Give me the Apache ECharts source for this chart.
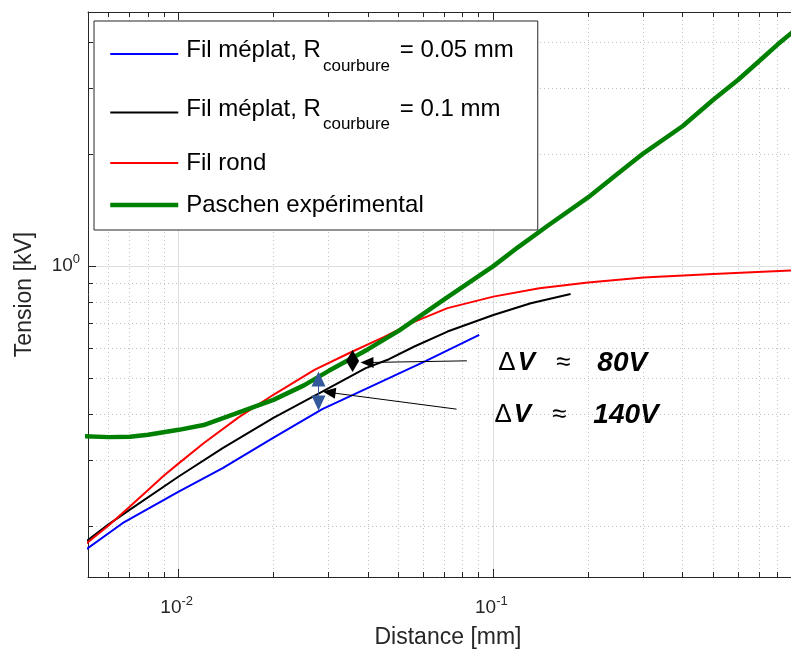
<!DOCTYPE html>
<html><head><meta charset="utf-8">
<script src="https://cdn.jsdelivr.net/npm/echarts@6/dist/echarts.min.js"></script>
<style>html,body{margin:0;padding:0;background:#fff}#c{width:791px;height:651px}</style>
</head><body><div id="c"></div>
<script>
// ---- data ----
const nameBlue = 'Fil méplat, Rcourbure = 0.05 mm';
const nameBlack = 'Fil méplat, Rcourbure = 0.1 mm';
const nameRed = 'Fil rond';
const nameGreen = 'Paschen expérimental';

const xBlue = [0.005, 0.00663, 0.01, 0.0138, 0.0199, 0.0286, 0.0466, 0.0611, 0.0902];
const yBlue = [0.1716, 0.2037, 0.2478, 0.2864, 0.3448, 0.4126, 0.4998, 0.5564, 0.6537];

const xBlack = [0.005, 0.006, 0.007, 0.01, 0.0138, 0.02, 0.0286, 0.0393, 0.0466, 0.0561, 0.0715, 0.1, 0.1315, 0.176];
const yBlack = [0.180, 0.2025, 0.2215, 0.272, 0.324, 0.391, 0.460, 0.532, 0.562, 0.608, 0.667, 0.739, 0.795, 0.841];

const xRed = [0.005, 0.006, 0.007, 0.009, 0.01, 0.012, 0.0155, 0.02, 0.027, 0.035, 0.045, 0.056, 0.0715, 0.1, 0.14, 0.2, 0.3, 0.5, 0.88, 1.0];
const yRed = [0.1775, 0.201, 0.226, 0.274, 0.295, 0.334, 0.392, 0.451, 0.526, 0.585, 0.645, 0.708, 0.771, 0.828, 0.872, 0.903, 0.932, 0.953, 0.973, 0.976];

const xGreen = [0.005, 0.006, 0.007, 0.008, 0.01, 0.012, 0.015, 0.02, 0.025, 0.03, 0.035, 0.04, 0.05, 0.07, 0.1, 0.12, 0.15, 0.2, 0.25, 0.3, 0.4, 0.5, 0.6, 0.7, 0.8, 0.9, 1.0];
const yGreen = [0.349, 0.347, 0.348, 0.352, 0.363, 0.374, 0.400, 0.437, 0.478, 0.523, 0.562, 0.598, 0.67, 0.815, 1.0, 1.125, 1.29, 1.53, 1.78, 2.01, 2.38, 2.80, 3.17, 3.56, 3.94, 4.28, 4.62];

const xLimits = [0.00515, 1];
const yLimits = [0.146, 4.82];
const xMinorTicks = [0.006, 0.007, 0.008, 0.009, 0.02, 0.03, 0.04, 0.05, 0.06, 0.07, 0.08, 0.09, 0.2, 0.3, 0.4, 0.5, 0.6, 0.7, 0.8, 0.9];
const yMinorTicks = [0.2, 0.3, 0.4, 0.5, 0.6, 0.7, 0.8, 0.9, 2, 3, 4];

// annotations: [from point, to point] in data units
const arrow80 = [[0.0824, 0.5564], [0.03967, 0.5507]];
const arrow140 = [[0.07639, 0.4126], [0.03007, 0.4576]];
const dbl80 = [[0.0357, 0.5748], [0.0357, 0.5372]];
const dbl140 = [[0.02782, 0.497], [0.02782, 0.4285]];
const label80Pos = [0.10335, 0.5495];
const label140Pos = [0.1004, 0.3983];
const label80Value = '80V';
const label140Value = '140V';

// ---- chart ----
const FONT = '"Liberation Sans", Arial, Helvetica, sans-serif';
const AX = '#262626';
const zip = (xs, ys) => xs.map((x, i) => [x, ys[i]]);
const isPow10 = v => Math.abs(Math.log10(v) - Math.round(Math.log10(v))) < 1e-6;
const powLabel = v => isPow10(v) ? '10{sup|' + Math.round(Math.log10(v)) + '}' : '';
const powLabelX = v => (v < 0.99 ? powLabel(v) : '');
const labelRich = { sup: { fontSize: 13, fontFamily: FONT, color: AX, padding: [0, 0, 13, 0], verticalAlign: 'middle' } };

const chart = echarts.init(document.getElementById('c'), null, { renderer: 'canvas' });

const crisp = v => Math.round(v - 0.5) + 0.5;
const minorStyle = { stroke: '#c2c2c2', lineWidth: 1, lineDash: [1, 3] };
const tickStyle = { stroke: AX, lineWidth: 1 };

const legendFormatter = n => {
  const i = n.indexOf('Rcourbure');
  if (i < 0) return '{p|' + n + '}';
  return '{s|\u200b}{m|' + n.slice(0, i + 1) + '}{sub|courbure}{e|' + n.slice(i + 9) + '}';
};

const option = {
  animation: false,
  backgroundColor: '#fff',
  grid: { left: 88, top: 12, bottom: 74, right: -17, containLabel: false, outerBoundsMode: 'none' },
  xAxis: [{
    type: 'log', logBase: 10, min: xLimits[0], max: xLimits[1], position: 'bottom',
    name: 'Distance [mm]', nameLocation: 'middle', nameGap: 49,
    nameTextStyle: { fontFamily: FONT, fontSize: 23, color: AX },
    axisLine: { show: true, lineStyle: { color: AX, width: 1 } },
    axisTick: { show: true, inside: true, length: 8, lineStyle: { color: AX } },
    axisLabel: { show: true, margin: 18, fontFamily: FONT, fontSize: 19, color: AX, formatter: powLabelX, rich: labelRich, padding: [0, 4, 0, 0] },
    splitLine: { show: true, lineStyle: { color: '#dedede', width: 1 } }
  }, {
    type: 'log', logBase: 10, min: xLimits[0], max: xLimits[1], position: 'top',
    axisLine: { show: true, lineStyle: { color: AX, width: 1 } },
    axisTick: { show: true, inside: true, length: 8, lineStyle: { color: AX } },
    axisLabel: { show: false }, splitLine: { show: false }
  }],
  yAxis: [{
    type: 'log', logBase: 10, min: yLimits[0], max: yLimits[1],
    name: 'Tension [kV]', nameLocation: 'middle', nameGap: 52,
    nameTextStyle: { fontFamily: FONT, fontSize: 23, color: AX },
    axisLine: { show: true, lineStyle: { color: AX, width: 1 } },
    axisTick: { show: true, inside: true, length: 8, lineStyle: { color: AX } },
    axisLabel: { show: true, margin: 8, fontFamily: FONT, fontSize: 19, color: AX, formatter: powLabel, rich: labelRich },
    splitLine: { show: true, lineStyle: { color: '#dedede', width: 1 } }
  }],
  legend: {
    data: [nameBlue, nameBlack, nameRed, nameGreen],
    orient: 'vertical', left: 94, top: 21, padding: [13, 24, 13, 14],
    itemWidth: 68, itemHeight: 14, itemGap: 18,
    backgroundColor: '#fff', borderColor: AX, borderWidth: 1, borderRadius: 0,
    selectedMode: false,
    itemStyle: { opacity: 0 },
    lineStyle: { width: 'inherit' },
    formatter: legendFormatter,
    textStyle: {
      fontFamily: FONT, fontSize: 24, color: '#000', padding: [0, 0, 0, 3],
      rich: {
        s: { fontFamily: FONT, fontSize: 1, lineHeight: 40, verticalAlign: 'top' },
        m: { fontFamily: FONT, fontSize: 24, lineHeight: 31, color: '#000', verticalAlign: 'top', padding: [4.5, 0, 0, 0] },
        e: { fontFamily: FONT, fontSize: 24, lineHeight: 31, color: '#000', verticalAlign: 'top', padding: [4.5, 0, 0, 3] },
        sub: { fontFamily: FONT, fontSize: 17, lineHeight: 14, color: '#000', padding: [23.5, 0, 0, 2], verticalAlign: 'top' },
        p: { fontFamily: FONT, fontSize: 24, lineHeight: 24, color: '#000' }
      }
    }
  },
  series: [
    {
      type: 'custom', name: 'xminor', xAxisIndex: 0, yAxisIndex: 0, z: 1, silent: true,
      data: xMinorTicks.map(v => [v, 1]),
      renderItem: (params, api) => {
        const cs = params.coordSys;
        const x = crisp(api.coord([api.value(0), 1])[0]);
        const t = cs.y, b = cs.y + cs.height;
        return { type: 'group', children: [
          { type: 'line', shape: { x1: x, y1: t, x2: x, y2: b }, style: minorStyle },
          { type: 'line', shape: { x1: x, y1: b, x2: x, y2: b - 5 }, style: tickStyle },
          { type: 'line', shape: { x1: x, y1: t, x2: x, y2: t + 5 }, style: tickStyle }
        ] };
      }
    },
    {
      type: 'custom', name: 'yminor', xAxisIndex: 0, yAxisIndex: 0, z: 1, silent: true,
      data: yMinorTicks.map(v => [0.01, v]),
      renderItem: (params, api) => {
        const cs = params.coordSys;
        const y = crisp(api.coord([0.01, api.value(1)])[1]);
        const l = cs.x, r = cs.x + cs.width;
        return { type: 'group', children: [
          { type: 'line', shape: { x1: l, y1: y, x2: r, y2: y }, style: minorStyle },
          { type: 'line', shape: { x1: l, y1: y, x2: l + 5, y2: y }, style: tickStyle }
        ] };
      }
    },
    { type: 'line', name: nameBlue, data: zip(xBlue, yBlue), showSymbol: false, symbol: 'none', z: 3,
      lineStyle: { color: '#0000ff', width: 2 }, itemStyle: { color: '#0000ff' } },
    { type: 'line', name: nameBlack, data: zip(xBlack, yBlack), showSymbol: false, symbol: 'none', z: 3,
      lineStyle: { color: '#000000', width: 2 }, itemStyle: { color: '#000000' } },
    { type: 'line', name: nameRed, data: zip(xRed, yRed), showSymbol: false, symbol: 'none', z: 3,
      lineStyle: { color: '#ff0000', width: 2 }, itemStyle: { color: '#ff0000' } },
    { type: 'line', name: nameGreen, data: zip(xGreen, yGreen), showSymbol: false, symbol: 'none', z: 3,
      lineStyle: { color: '#008000', width: 4.5 }, itemStyle: { color: '#008000' } },
    {
      type: 'line', name: 'annotations', data: [], z: 5, silent: true,
      markLine: {
        silent: true, animation: false, label: { show: false },
        symbol: ['none', 'triangle'], symbolSize: [11, 13],
        lineStyle: { color: '#000', width: 1, type: 'solid' },
        emphasis: { disabled: true },
        data: [
          [{ coord: arrow80[0] }, { coord: arrow80[1] }],
          [{ coord: arrow140[0] }, { coord: arrow140[1] }],
          [{ coord: dbl80[0], symbol: 'triangle', symbolSize: [13, 11] }, { coord: dbl80[1], symbol: 'triangle', symbolSize: [13, 11] }],
          [{ coord: dbl140[0], symbol: 'triangle', symbolSize: [14, 15], lineStyle: { color: '#33599a' } }, { coord: dbl140[1], symbol: 'triangle', symbolSize: [14, 15] }]
        ]
      },
      markPoint: {
        silent: true, animation: false, symbol: 'rect', symbolSize: 1, itemStyle: { color: 'rgba(0,0,0,0)' },
        label: {
          show: true, position: 'right', distance: 0, color: '#000',
          rich: {
            d: { fontFamily: FONT, fontSize: 26, color: '#000' },
            v: { fontFamily: FONT, fontSize: 26, fontStyle: 'italic', fontWeight: 'bold', color: '#000', padding: [0, 0, 0, 2] },
            a: { fontFamily: FONT, fontSize: 26, color: '#000', padding: [0, 0, 0, 21] },
            n: { fontFamily: FONT, fontSize: 28, fontStyle: 'italic', fontWeight: 'bold', color: '#000', padding: [0, 0, 0, 27] }
          }
        },
        data: [
          { coord: label80Pos, label: { formatter: '{d|Δ}{v|V}{a|≈}{n|' + label80Value + '}' } },
          { coord: label140Pos, label: { formatter: '{d|Δ}{v|V}{a|≈}{n|' + label140Value + '}' } }
        ]
      }
    }
  ]
};
chart.setOption(option);
</script></body></html>
